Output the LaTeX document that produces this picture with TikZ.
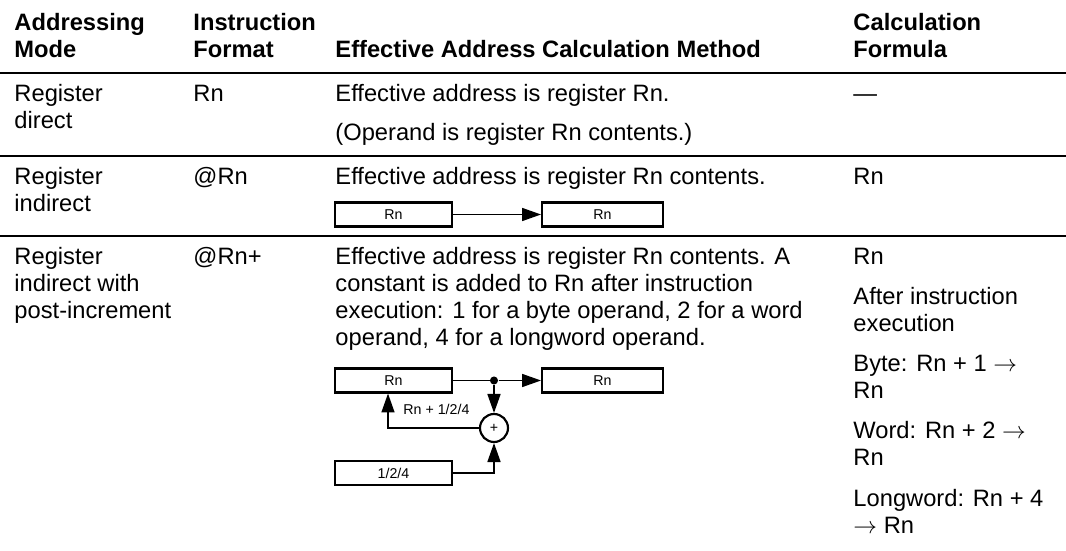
\documentclass[tikz,border=0pt]{standalone}
\usepackage{fontspec}
\setmainfont{Liberation Sans}
\usetikzlibrary{arrows.meta}
\begin{document}
\begin{tikzpicture}[x=0.422pt,y=-0.422pt,
  txt/.style={anchor=base west,inner sep=0pt,font=\fontsize{10}{12}\selectfont},
  hdr/.style={anchor=base west,inner sep=0pt,font=\fontsize{10}{12}\selectfont\bfseries},
  small/.style={anchor=base west,inner sep=0pt,font=\fontsize{6}{7}\selectfont},
  rule/.style={line width=1.2pt},
  regbox/.style={draw,line width=0.9pt,minimum height=10.1pt,inner sep=0pt,font=\fontsize{6}{7}\selectfont},
  conn/.style={line width=0.6pt},
  arr/.style={conn,-{Triangle[length=8pt,width=5.5pt]}},
]
\useasboundingbox (0,0) rectangle (1066,551);
% rules
\coordinate (l0) at (0,73);   \coordinate (r0) at (1066,73);
\coordinate (l1) at (0,156);  \coordinate (r1) at (1066,156);
\coordinate (l2) at (0,236);  \coordinate (r2) at (1066,236);
\draw[rule] (l0) -- (r0);
\draw[rule] (l1) -- (r1);
\draw[rule] (l2) -- (r2);
% header
\node[hdr] (h1a) at (14,31) {Addressing};
\node[hdr] (h1b) at (14,58) {Mode};
\node[hdr] (h2a) at (193,31) {Instruction};
\node[hdr] (h2b) at (193,58) {Format};
\node[hdr] (h3)  at (335,58) {Effective Address Calculation Method};
\node[hdr] (h4a) at (853,31) {Calculation};
\node[hdr] (h4b) at (853,58) {Formula};
% row 1
\node[txt] (a1a) at (14,102) {Register};
\node[txt] (a1b) at (14,129) {direct};
\node[txt] (b1)  at (193,102) {Rn};
\node[txt] (c1a) at (335,102) {Effective address is register Rn.};
\node[txt] (c1b) at (335,141) {(Operand is register Rn contents.)};
\node[txt] (d1)  at (853,102) {—};
% row 2
\node[txt] (a2a) at (14,185) {Register};
\node[txt] (a2b) at (14,212) {indirect};
\node[txt] (b2)  at (193,185) {@Rn};
\node[txt] (c2)  at (335,185) {Effective address is register Rn contents.};
\node[txt] (d2)  at (853,185) {Rn};
\node[regbox,minimum width=49.4pt] (r2a) at (393.5,214.5) {Rn};
\node[regbox,minimum width=51pt] (r2b) at (602.5,214.5) {Rn};
\draw[arr] (r2a.east) -- (r2b.west);
% row 3
\node[txt] (a3a) at (14,265) {Register};
\node[txt] (a3b) at (14,292) {indirect with};
\node[txt] (a3c) at (14,319) {post-increment};
\node[txt] (b3)  at (193,265) {@Rn+};
\node[txt] (c3a) at (335,265) {Effective address is register Rn contents. A};
\node[txt] (c3b) at (335,292) {constant is added to Rn after instruction};
\node[txt] (c3c) at (335,319) {execution: 1 for a byte operand, 2 for a word};
\node[txt] (c3d) at (335,346) {operand, 4 for a longword operand.};
\node[txt] (d3a) at (853,265) {Rn};
\node[txt] (d3b) at (853,305) {After instruction};
\node[txt] (d3c) at (853,332) {execution};
\node[txt] (d3d) at (853,372) {Byte: Rn + 1 $\rightarrow$};
\node[txt] (d3e) at (853,399) {Rn};
\node[txt] (d3f) at (853,439) {Word: Rn + 2 $\rightarrow$};
\node[txt] (d3g) at (853,466) {Rn};
\node[txt] (d3h) at (853,506) {Longword: Rn + 4};
\node[txt] (d3i) at (853,533) {$\rightarrow$ Rn};
% diagram row 3
\node[regbox,minimum width=49.4pt] (r3a) at (393.5,380.5) {Rn};
\node[regbox,minimum width=51pt] (r3b) at (602.5,380.5) {Rn};
\node[regbox,minimum width=49.4pt] (inc) at (393.5,473) {1/2/4};
\node[circle,draw,line width=0.9pt,minimum size=11.8pt,inner sep=0pt,font=\fontsize{6}{7}\selectfont] (plus) at (494,428) {+};
\node[circle,fill,inner sep=0pt,minimum size=3.4pt] (dot) at (494,380.5) {};
\coordinate (fb) at (388,428);
\draw[conn] (r3a.east) -- (dot);
\draw[arr] (dot) -- (r3b.west);
\draw[arr] (dot) -- (plus.north);
\draw[arr] (plus.west) -- (fb) -- (r3a.south -| fb);
\draw[arr] (inc.east) -| (plus.south);
\node[small] (lbl) at (403,415) {Rn + 1/2/4};
\end{tikzpicture}
\end{document}
